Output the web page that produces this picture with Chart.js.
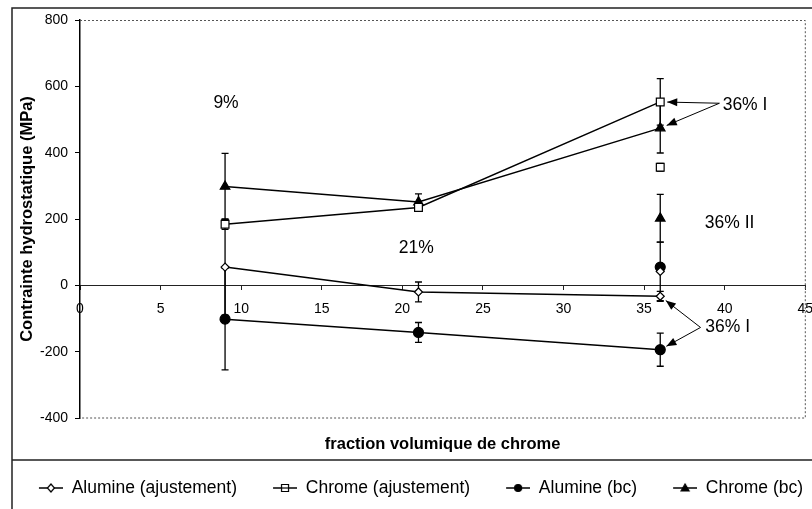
<!DOCTYPE html>
<html>
<head>
<meta charset="utf-8">
<script src="https://cdn.jsdelivr.net/npm/chart.js@4.4.0/dist/chart.umd.min.js"></script>
<style>
  html, body { margin: 0; padding: 0; background: #fff; }
</style>
</head>
<body>
<canvas id="stress-chart" width="812" height="509"></canvas>
<script>
// fraction volumique de chrome (%)
const fractions = [9, 21, 36];
const xTicks = [0, 5, 10, 15, 20, 25, 30, 35, 40, 45];
const yTicks = [-400, -200, 0, 200, 400, 600, 800];

const seriesLabels = ['Alumine (ajustement)', 'Chrome (ajustement)', 'Alumine (bc)', 'Chrome (bc)'];

// contrainte hydrostatique (MPa), 9% / 21% / 36% I
const alumineAjust = [55, -20, -33];
const chromeAjust = [184, 235, 553];
const alumineBc = [-102, -142, -194];
const chromeBc = [298, 251, 474];

// error bars (+/- MPa)
const alumineAjustErr = [145, 30, 15];
const chromeAjustErr = [15, 12, 70];
const alumineBcErr = [153, 30, 50];
const chromeBcErr = [100, 25, 75];

// 36% II (same order as seriesLabels)
const fractionII = 36;
const valuesII = [42, 356, 55, 202];
const errorsII = [88, 12, 10, 72];

// text notes on the plot, in data units
const notes = [
    { text: '9%', x: 9.06, y: 549 },
    { text: '21%', x: 20.86, y: 112 },
    { text: '36% II', x: 40.3, y: 187 },
    { text: '36% I', x: 41.26, y: 543, from: [39.67, 549], to: [553, 474] },
    { text: '36% I', x: 40.18, y: -127, from: [38.5, -127], to: [-33, -194] },
];

const markers = [
    { style: 'rectRot', radius: 4, fill: '#fff' },
    { style: 'rect', radius: 5.5, fill: '#fff' },
    { style: 'circle', radius: 5, fill: '#000' },
    { style: 'triangle', radius: 5.5, fill: '#000' },
];

const FONT = "'Liberation Sans', Arial, Helvetica, sans-serif";
Chart.defaults.font.family = FONT;
Chart.defaults.color = '#000';

// line + marker picture for the legend (left part left empty as spacing)
const ICON_GAP = 34;
const legendIcon = (style, fill) => {
    const c = document.createElement('canvas');
    c.width = ICON_GAP + 24; c.height = 12;
    const g = c.getContext('2d');
    const cx = ICON_GAP + 12;
    g.strokeStyle = '#000';
    g.lineWidth = 1.5;
    g.beginPath(); g.moveTo(ICON_GAP, 6); g.lineTo(ICON_GAP + 24, 6); g.stroke();
    g.fillStyle = fill;
    g.lineWidth = 1.2;
    g.beginPath();
    if (style === 'rectRot') {
        g.moveTo(cx, 2); g.lineTo(cx + 3.5, 6); g.lineTo(cx, 10); g.lineTo(cx - 3.5, 6); g.closePath();
    } else if (style === 'rect') {
        g.rect(cx - 3.5, 2.5, 7, 7);
    } else if (style === 'circle') {
        g.arc(cx, 6, 3.5, 0, Math.PI * 2);
    } else {
        g.moveTo(cx, 2); g.lineTo(cx + 4, 9); g.lineTo(cx - 4, 9); g.closePath();
    }
    g.fill(); g.stroke();
    if (style === 'rect') { g.beginPath(); g.moveTo(cx - 3.5, 6); g.lineTo(cx + 3.5, 6); g.stroke(); }
    return c;
};

const mainValues = [alumineAjust, chromeAjust, alumineBc, chromeBc];
const mainErrors = [alumineAjustErr, chromeAjustErr, alumineBcErr, chromeBcErr];

const datasets = [];
seriesLabels.forEach((label, i) => {
    datasets.push({
        label,
        data: fractions.map((x, j) => ({ x, y: mainValues[i][j] })),
        errors: mainErrors[i],
        showLine: true,
        borderColor: '#000',
        borderWidth: 1.5,
        pointStyle: markers[i].style,
        pointRadius: markers[i].radius,
        pointBackgroundColor: markers[i].fill,
        pointBorderColor: '#000',
        pointBorderWidth: 1.2,
    });
});
seriesLabels.forEach((label, i) => {
    datasets.push({
        label: label + ' 36% II',
        data: [{ x: fractionII, y: valuesII[i] }],
        errors: [errorsII[i]],
        showLine: false,
        pointStyle: markers[i].style,
        pointRadius: markers[i].radius,
        pointBackgroundColor: markers[i].fill,
        pointBorderColor: '#000',
        pointBorderWidth: 1.2,
    });
});

const errorBars = {
    id: 'errorBars',
    beforeDatasetsDraw(chart) {
        const { ctx, scales: { y } } = chart;
        ctx.save();
        ctx.strokeStyle = '#000';
        ctx.lineWidth = 1.3;
        chart.data.datasets.forEach((ds, i) => {
            const meta = chart.getDatasetMeta(i);
            meta.data.forEach((pt, j) => {
                const e = ds.errors[j];
                const v = ds.data[j].y;
                const top = y.getPixelForValue(v + e);
                const bot = y.getPixelForValue(v - e);
                ctx.beginPath();
                ctx.moveTo(pt.x, top); ctx.lineTo(pt.x, bot);
                ctx.moveTo(pt.x - 3.5, top); ctx.lineTo(pt.x + 3.5, top);
                ctx.moveTo(pt.x - 3.5, bot); ctx.lineTo(pt.x + 3.5, bot);
                ctx.stroke();
            });
        });
        ctx.restore();
    }
};

const frame = {
    id: 'frame',
    beforeDraw(chart) {
        const { ctx, width, height } = chart;
        ctx.save();
        ctx.fillStyle = '#fff';
        ctx.fillRect(0, 0, width, height);
        ctx.restore();
    },
    afterDraw(chart) {
        const { ctx, chartArea: a } = chart;
        ctx.save();
        // dotted plot area border
        ctx.strokeStyle = '#555';
        ctx.lineWidth = 1;
        ctx.setLineDash([2, 2]);
        ctx.beginPath();
        ctx.moveTo(a.left, a.top + 0.5); ctx.lineTo(a.right, a.top + 0.5);
        ctx.lineTo(a.right, a.bottom); ctx.lineTo(a.left, a.bottom);
        ctx.stroke();
        ctx.setLineDash([]);
        // outer frame and legend separator
        ctx.strokeStyle = '#222';
        ctx.lineWidth = 1.5;
        ctx.beginPath();
        ctx.moveTo(12, 509); ctx.lineTo(12, 8); ctx.lineTo(812, 8);
        ctx.moveTo(12, 460); ctx.lineTo(812, 460);
        ctx.stroke();
        ctx.restore();
    }
};

const notesPlugin = {
    id: 'notes',
    afterDatasetsDraw(chart) {
        const { ctx, scales: { x, y } } = chart;
        ctx.save();
        ctx.fillStyle = '#000';
        ctx.strokeStyle = '#000';
        ctx.font = '17.5px ' + FONT;
        ctx.textAlign = 'center';
        ctx.textBaseline = 'middle';
        notes.forEach(n => {
            ctx.fillText(n.text, x.getPixelForValue(n.x), y.getPixelForValue(n.y));
            if (!n.from) return;
            const sx = x.getPixelForValue(n.from[0]);
            const sy = y.getPixelForValue(n.from[1]);
            n.to.forEach(v => {
                const px = x.getPixelForValue(fractions[2]);
                const py = y.getPixelForValue(v);
                const dx = px - sx, dy = py - sy;
                const len = Math.hypot(dx, dy);
                const ux = dx / len, uy = dy / len;
                const tx = px - ux * 7, ty = py - uy * 7;
                ctx.lineWidth = 1;
                ctx.beginPath(); ctx.moveTo(sx, sy); ctx.lineTo(tx, ty); ctx.stroke();
                ctx.beginPath();
                ctx.moveTo(tx, ty);
                ctx.lineTo(tx - ux * 10 - uy * 4, ty - uy * 10 + ux * 4);
                ctx.lineTo(tx - ux * 10 + uy * 4, ty - uy * 10 - ux * 4);
                ctx.closePath();
                ctx.fill();
            });
        });
        ctx.restore();
    }
};

const CHART = document.getElementById('stress-chart');
const stressChart = new Chart(CHART, {
    type: 'scatter',
    data: { datasets },
    plugins: [frame, errorBars, notesPlugin],
    options: {
        responsive: false,
        animation: false,
        devicePixelRatio: 1,
        layout: { padding: { left: 0, top: 20, right: 4, bottom: 2.25 } },
        scales: {
            x: {
                type: 'linear',
                position: { y: 0 },
                min: 0,
                max: 45,
                afterBuildTicks: s => { s.ticks = xTicks.map(v => ({ value: v })); },
                afterFit: s => { s.paddingLeft = 0; s.paddingRight = 0; },
                ticks: { font: { size: 14 }, padding: 11, maxRotation: 0, autoSkip: false, color: '#000' },
                grid: { display: true, drawOnChartArea: false, drawTicks: true, tickLength: 4, color: '#222' },
                border: { display: true, color: '#222', width: 1 },
            },
            y: {
                type: 'linear',
                position: 'left',
                min: -400,
                max: 800,
                afterBuildTicks: s => { s.ticks = yTicks.map(v => ({ value: v })); },
                afterFit: s => { s.width = 80; },
                ticks: { font: { size: 14 }, padding: 7, color: '#000' },
                grid: { display: true, drawOnChartArea: false, drawTicks: true, tickLength: 5, color: '#000' },
                border: { display: true, color: '#000', width: 1.5 },
                title: {
                    display: true,
                    text: 'Contrainte hydrostatique (MPa)',
                    font: { size: 16.5, weight: 'bold' },
                    padding: { top: 18, bottom: 0 },
                    color: '#000',
                },
            },
        },
        plugins: {
            title: {
                display: true,
                text: 'fraction volumique de chrome',
                position: 'bottom',
                weight: 10,
                fullSize: false,
                font: { size: 16.5, weight: 'bold' },
                padding: { top: 17, bottom: 22.45 },
                color: '#000',
            },
            legend: {
                position: 'bottom',
                labels: {
                    usePointStyle: true,
                    pointStyleWidth: ICON_GAP + 24,
                    padding: 2,
                    color: '#000',
                    font: { size: 17.5 },
                    generateLabels: () => seriesLabels.map((text, i) => ({
                        text,
                        datasetIndex: i,
                        pointStyle: legendIcon(markers[i].style, markers[i].fill),
                        fillStyle: '#fff',
                        strokeStyle: '#000',
                        lineWidth: 0,
                        hidden: false,
                    })),
                },
            },
            tooltip: { enabled: false },
        },
    },
});
</script>
</body>
</html>
